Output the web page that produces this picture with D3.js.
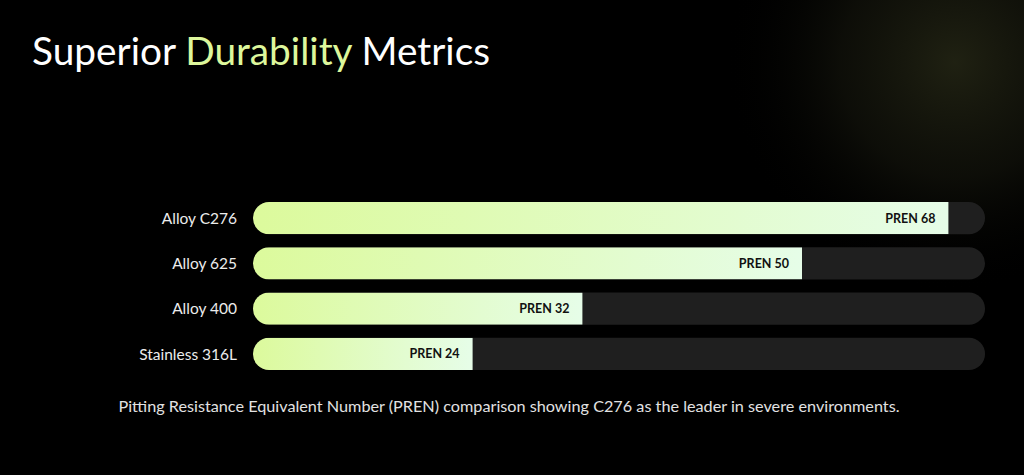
<!DOCTYPE html>
<html>
<head>
<meta charset="utf-8">
<script src="https://cdn.jsdelivr.net/npm/d3@7"></script>
<style>
  html, body { margin: 0; padding: 0; background: #000; }
  svg { display: block; }
</style>
</head>
<body>
<svg id="chart" width="1024" height="475"></svg>
<script>
// data
var materials = ["Alloy C276", "Alloy 625", "Alloy 400", "Stainless 316L"];
var prenValues = [68, 50, 32, 24];
var barPercent = [95, 75, 45, 30];   // bar fill width, % of track
var titleParts = [
  {text: "Superior ", accent: false},
  {text: "Durability", accent: true},
  {text: " Metrics", accent: false}
];
var caption = "Pitting Resistance Equivalent Number (PREN) comparison showing C276 as the leader in severe environments.";

var W = 1024, H = 475;
var svg = d3.select("#chart");
var defs = svg.append("defs");
var font = "Lato, 'Open Sans', sans-serif";

// background + soft glow top right
svg.append("rect").attr("width", W).attr("height", H).attr("fill", "#000");
var glow = defs.append("radialGradient").attr("id", "glow")
  .attr("gradientUnits", "userSpaceOnUse")
  .attr("cx", 955).attr("cy", 62).attr("r", 230);
glow.append("stop").attr("offset", 0).attr("stop-color", "#2a2c18").attr("stop-opacity", 0.75);
glow.append("stop").attr("offset", 0.5).attr("stop-color", "#1a1b10").attr("stop-opacity", 0.5);
glow.append("stop").attr("offset", 1).attr("stop-color", "#000").attr("stop-opacity", 0);
svg.append("rect").attr("width", W).attr("height", H).attr("fill", "url(#glow)");

var fillGrad = defs.append("linearGradient").attr("id", "barFill")
  .attr("x1", 0).attr("x2", 1).attr("y1", 0).attr("y2", 0);
fillGrad.append("stop").attr("offset", 0).attr("stop-color", "#dcfa9c");
fillGrad.append("stop").attr("offset", 1).attr("stop-color", "#e6fde8");

// title
var title = svg.append("text")
  .attr("x", 32).attr("y", 65)
  .attr("font-family", font).attr("font-size", 42)
  .attr("font-weight", 400).attr("fill", "#fff");
title.selectAll("tspan").data(titleParts).join("tspan")
  .attr("fill", function(d) { return d.accent ? "#ddf79c" : "#fff"; })
  .style("white-space", "pre")
  .text(function(d) { return d.text; });
var tw = title.node().getComputedTextLength();
title.attr("font-size", 42 * 458 / tw);

// scales
var x = d3.scaleLinear().domain([0, 100]).range([253, 985]);
var y = d3.scaleBand().domain(materials).range([202, 370]).paddingInner(0.29).paddingOuter(0);
var bh = y.bandwidth();

var rows = materials.map(function(m, i) {
  return {name: m, pren: prenValues[i], pct: barPercent[i], i: i};
});

rows.forEach(function(d) {
  defs.append("clipPath").attr("id", "clip" + d.i)
    .append("rect")
    .attr("x", x(0)).attr("y", y(d.name))
    .attr("width", x(100) - x(0)).attr("height", bh)
    .attr("rx", bh / 2);
});

var row = svg.selectAll("g.row").data(rows).join("g").attr("class", "row");

row.append("rect")
  .attr("x", x(0)).attr("y", function(d) { return y(d.name); })
  .attr("width", x(100) - x(0)).attr("height", bh)
  .attr("rx", bh / 2).attr("fill", "#1f1f1f");

row.append("rect")
  .attr("clip-path", function(d) { return "url(#clip" + d.i + ")"; })
  .attr("x", x(0)).attr("y", function(d) { return y(d.name); })
  .attr("width", function(d) { return x(d.pct) - x(0); })
  .attr("height", bh)
  .attr("fill", "url(#barFill)");

row.append("text")
  .attr("x", function(d) { return x(d.pct) - 13; })
  .attr("y", function(d) { return y(d.name) + bh / 2; })
  .attr("dy", "0.36em")
  .attr("text-anchor", "end")
  .attr("font-family", font).attr("font-size", 12.5).attr("font-weight", 700)
  .attr("fill", "#111")
  .text(function(d) { return "PREN " + d.pren; });

row.append("text")
  .attr("x", 237)
  .attr("y", function(d) { return y(d.name) + bh / 2; })
  .attr("dy", "0.36em")
  .attr("text-anchor", "end")
  .attr("font-family", font).attr("font-size", 15.5)
  .attr("fill", "#ececec")
  .text(function(d) { return d.name; });

// caption
var cap = svg.append("text")
  .attr("x", 509).attr("y", 412)
  .attr("text-anchor", "middle")
  .attr("font-family", font).attr("font-size", 14)
  .attr("fill", "#e2e2e2")
  .text(caption);
var cw = cap.node().getComputedTextLength();
cap.attr("font-size", 14 * 782 / cw);
</script>
</body>
</html>
